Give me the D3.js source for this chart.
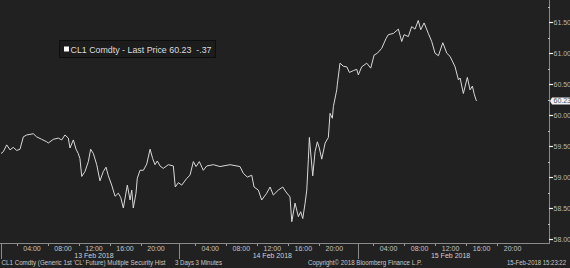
<!DOCTYPE html>
<html><head><meta charset="utf-8">
<script src="https://cdn.jsdelivr.net/npm/d3@7"></script>
<style>html,body{margin:0;padding:0;background:#212121;overflow:hidden}svg{display:block}</style>
</head><body><svg id="c" width="570" height="268"></svg>
<script>
// ---- data ----
const times = [
"13 00:00","13 00:18","13 00:44","13 01:10","13 01:35","13 02:02","13 02:27","13 02:53","13 03:19","13 04:10",
"13 04:36","13 05:15","13 05:54","13 06:06","13 06:45","13 07:24","13 07:50","13 08:15","13 08:41","13 08:54",
"13 09:20","13 09:41","13 09:58","13 10:11","13 10:25","13 10:50","13 11:16","13 11:34","13 11:55","13 12:21",
"13 12:46","13 13:12","13 13:33","13 13:51","13 14:17","13 14:43","13 15:08","13 15:27","13 15:47","13 16:18",
"13 16:39","13 16:52","13 17:04","13 17:25","13 17:35","13 17:56","13 18:22","13 18:48","13 19:14","13 19:34",
"13 19:52","13 20:10","13 20:31","13 20:56","13 21:35","13 23:14","13 23:29","13 23:53",
"14 00:19","14 00:58","14 01:23","14 01:49","14 02:10","14 02:35","14 03:06","14 03:33","14 04:24","14 05:15",
"14 06:33","14 07:50","14 08:16","14 08:47","14 09:21","14 09:39","14 10:12","14 10:38","14 11:17","14 11:43",
"14 12:08","14 12:47","14 13:21","14 13:46","14 14:17","14 14:31","14 14:56","14 15:22","14 15:40","14 15:56",
"14 16:14","14 16:27","14 16:39","14 16:47","14 17:13","14 17:31","14 17:49","14 18:04","14 18:23","14 18:49",
"14 19:14","14 19:27","14 19:45","14 19:53","14 20:19","14 20:23","14 20:44","14 21:10","14 21:37","14 21:57",
"14 23:28","14 23:54",
"15 00:06","15 00:32","15 01:11","15 01:42","15 02:08","15 02:33","15 03:07","15 03:41","15 03:58","15 04:37",
"15 05:16","15 05:42","15 06:00","15 06:33","15 06:59","15 07:25","15 07:50","15 08:09","15 08:35","15 09:08",
"15 09:34","15 10:00","15 10:26","15 11:00","15 11:31","15 11:56","15 12:17","15 12:35","15 13:01","15 13:14",
"15 13:39","15 14:10","15 14:31","15 14:49","15 15:02","15 15:15","15 15:21"
];
const prices = [
59.38,59.41,59.52,59.44,59.48,59.43,59.45,59.65,59.68,59.70,
59.65,59.61,59.57,59.55,59.61,59.63,59.60,59.68,59.63,59.47,
59.60,59.45,59.38,59.30,59.01,59.09,59.25,59.45,59.38,59.20,
58.94,59.09,59.16,59.02,58.87,58.69,58.74,58.67,58.50,58.87,
58.63,58.79,58.50,58.74,58.98,59.11,59.11,59.21,59.45,59.30,
59.20,59.26,59.18,59.14,59.20,59.18,58.84,58.91,
58.87,58.98,59.03,59.25,59.17,59.25,59.11,59.18,59.20,59.17,
59.20,59.17,59.06,59.00,59.03,58.84,58.79,58.63,58.74,58.84,
58.71,58.79,58.84,58.76,58.68,58.28,58.58,58.36,58.44,58.33,
58.58,58.79,59.28,59.64,59.02,59.41,59.57,59.47,59.29,59.55,
59.64,60.03,59.95,60.14,60.41,60.49,60.84,60.79,60.78,60.69,
60.72,60.74,
60.65,60.78,60.84,60.76,60.97,61.00,61.08,61.24,61.30,61.32,
61.39,61.19,61.30,61.27,61.43,61.39,61.53,61.38,61.49,61.32,
61.19,61.00,60.96,61.17,61.00,60.95,60.86,60.78,60.57,60.60,
60.35,60.61,60.41,60.47,60.35,60.26,60.23
];
const dayLabels = ["13 Feb 2018","14 Feb 2018","15 Feb 2018"];
const hourLabels = ["04:00","08:00","12:00","16:00","20:00"];
const yMajor = [58.00,58.50,59.00,59.50,60.00,60.50,61.00,61.50];
const yMinor = [58.25,58.75,59.25,59.75,60.25,60.75,61.25,61.75];
const security = "CL1 Comdty";
const lastPrice = 60.23;
const netChange = "-.37";
const footerLeft = "CL1 Comdty (Generic 1st 'CL' Future) Multiple Security Hist";
const footerPeriod = "3 Days 3 Minutes";
const footerCopy = "Copyright\u00A9 2018 Bloomberg Finance L.P.";
const footerStamp = "15-Feb-2018 15:23:22";

// trading-hours index: each session day has 23 hours (one closed hour 22:00-23:00 removed)
function sessionIndex(dayOffset, hrs) {
  let h = hrs;
  if (h >= 23) h -= 1; else if (h > 22) h = 22;
  return dayOffset * 23 + h;
}
function parseT(s) {
  const [d, hm] = s.split(" ");
  const [hh, mm] = hm.split(":").map(Number);
  return sessionIndex(+d - 13, hh + mm / 60);
}

// ---- drawing ----
const svg = d3.select("#c");
const W = 570, H = 268;
const axisX = 549, axisY = 243;
svg.append("rect").attr("width", W).attr("height", H).attr("fill", "#212121");

const x = d3.scaleLinear().domain([0, 70.7]).range([1, axisX]);
const y = d3.scaleLinear().domain([58, 61.5]).range([239, 22.3]);

const font = "'Liberation Sans', Arial, sans-serif";

// axis lines
svg.append("line").attr("x1", 0).attr("x2", axisX).attr("y1", axisY + 0.5).attr("y2", axisY + 0.5)
  .attr("stroke", "#8a8a8a").attr("stroke-width", 1);
svg.append("line").attr("x1", axisX + 0.5).attr("x2", axisX + 0.5).attr("y1", 0).attr("y2", axisY + 1)
  .attr("stroke", "#8a8a8a").attr("stroke-width", 1);

// day separators
[0, 1, 2].forEach(d => {
  const px = Math.round(x(d * 23)) + 0.5;
  svg.append("line").attr("x1", px).attr("x2", px).attr("y1", axisY).attr("y2", 259)
    .attr("stroke", "#8a8a8a").attr("stroke-width", 1);
});

// hour labels + minor ticks
[0, 1, 2].forEach(d => {
  [4, 8, 12, 16, 20].forEach((h, i) => {
    svg.append("text").attr("x", x(sessionIndex(d, h))).attr("y", 250.5)
      .attr("text-anchor", "middle").attr("font-family", font).attr("font-size", 7)
      .attr("fill", "#c4c4c4").text(hourLabels[i]);
  });
  [2, 6, 10, 14, 18].forEach(h => {
    const px = Math.round(x(sessionIndex(d, h))) + 0.5;
    svg.append("line").attr("x1", px).attr("x2", px).attr("y1", axisY + 1).attr("y2", axisY + 3)
      .attr("stroke", "#9a9a9a");
  });
  svg.append("text").attr("x", x(sessionIndex(d, 12))).attr("y", 257.5)
    .attr("text-anchor", "middle").attr("font-family", font).attr("font-size", 7)
    .attr("fill", "#d0d0d0").text(dayLabels[d]);
});

// y ticks
yMajor.forEach(v => {
  const py = Math.round(y(v)) + 0.5;
  svg.append("line").attr("x1", axisX).attr("x2", axisX + 4).attr("y1", py).attr("y2", py)
    .attr("stroke", "#f0f0f0").attr("stroke-width", 1.2);
  svg.append("text").attr("x", axisX + 4.5).attr("y", py + 2.5)
    .attr("font-family", font).attr("font-size", 7).attr("fill", "#b8b8b8")
    .text(d3.format(".2f")(v));
});
yMinor.forEach(v => {
  const py = Math.round(y(v)) + 0.5;
  svg.append("line").attr("x1", axisX - 1).attr("x2", axisX + 1).attr("y1", py).attr("y2", py)
    .attr("stroke", "#bdbdbd");
});

// price line
const pts = times.map((t, i) => [parseT(t), prices[i]]);
svg.append("path").datum(pts)
  .attr("d", d3.line().x(d => x(d[0])).y(d => y(d[1])))
  .attr("fill", "none").attr("stroke", "#d9d9d9").attr("stroke-width", 1)
  .attr("stroke-linejoin", "round");

// last price tag
const ly = y(lastPrice);
svg.append("path")
  .attr("d", `M${axisX + 1},${ly} L${axisX + 3},${ly - 3.5} L570,${ly - 3.5} L570,${ly + 3.5} L${axisX + 3},${ly + 3.5} Z`)
  .attr("fill", "#f2f2f2");
svg.append("text").attr("x", axisX + 4.5).attr("y", ly + 2.5)
  .attr("font-family", font).attr("font-size", 7).attr("fill", "#555")
  .text(d3.format(".2f")(lastPrice));

// legend box
svg.append("rect").attr("x", 59.5).attr("y", 40.5).attr("width", 156).attr("height", 17)
  .attr("fill", "#1c1c1c").attr("stroke", "#0e0e0e").attr("stroke-width", 1);
svg.append("rect").attr("x", 64).attr("y", 46.5).attr("width", 5).attr("height", 5).attr("fill", "#ffffff");
svg.append("text").attr("x", 70.5).attr("y", 52.5)
  .attr("font-family", font).attr("font-size", 8.2).attr("fill", "#dcdcdc")
  .attr("xml:space", "preserve")
  .attr("textLength", 141).attr("lengthAdjust", "spacingAndGlyphs")
  .text(`${security} - Last Price ${d3.format(".2f")(lastPrice)}  ${netChange}`);

// footer
const ft = (txt, px, anchor, len) => svg.append("text").attr("x", px).attr("y", 264.5)
  .attr("text-anchor", anchor).attr("font-family", font).attr("font-size", 6.4)
  .attr("fill", "#c8c8c8").attr("textLength", len).attr("lengthAdjust", "spacingAndGlyphs").text(txt);
ft(footerLeft, 1.5, "start", 164);
ft(footerPeriod, 175, "start", 47);
ft(footerCopy, 308, "start", 114);
ft(footerStamp, 566, "end", 59);
</script></body></html>
